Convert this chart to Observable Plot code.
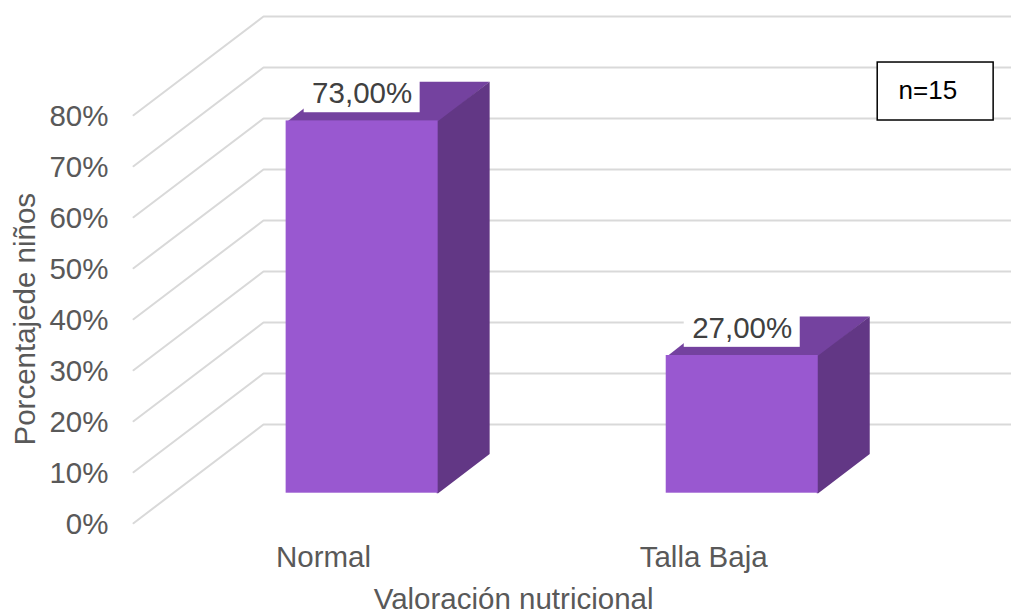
<!DOCTYPE html>
<html lang="es">
<head>
<meta charset="utf-8">
<title>Valoración nutricional</title>
<script src="https://cdn.jsdelivr.net/npm/d3@7"></script>
<script src="https://cdn.jsdelivr.net/npm/@observablehq/plot@0.6"></script>
<style>
  html, body { margin: 0; padding: 0; background: #fff; overflow: hidden; }
  svg { display: block; }
</style>
</head>
<body>
<div id="chart"></div>
<script>
// Data
const categories = ["Normal", "Talla Baja"];
const values = [73, 27];
const valueLabels = ["73,00%", "27,00%"];
const yTicks = [0, 10, 20, 30, 40, 50, 60, 70, 80];
const yTitle = "Porcentajede niños";
const xTitle = "Valoración nutricional";
const note = "n=15";

// Oblique "3D" projection, expressed in scale units
const xMax = 2.31;        // visible end of the back wall, in category units
const wallX = 0.342;      // horizontal shift of the back wall
const wallY = 19.35;      // vertical shift of the back wall
const barWidth = 0.4;
const depthFront = 0.304, depthBack = 0.70;
const barShift = depthFront * wallX - 0.0024;
const underlapX = 0.004, underlapY = 0.3;  // faces tuck under the front rect so no seam shows
const fontSize = 29.5;

const rows = categories.map((c, i) => ({
  c, v: values[i], label: valueLabels[i], center: i + 0.5 + barShift,
  x1: i + 0.5 - barWidth / 2 + barShift,
  x2: i + 0.5 + barWidth / 2 + barShift,
  yBase: depthFront * wallY,
  yTop: values[i] + depthFront * wallY
}));
const depthX = (depthBack - depthFront) * wallX;
const depthY = (depthBack - depthFront) * wallY;

const grid = yTicks.flatMap(t => [
  {t, x: 0, y: t},
  {t, x: wallX, y: t + wallY},
  {t, x: xMax, y: t + wallY}
]);
const topFaces = rows.flatMap(r => [
  {id: r.c, x: r.x1, y: r.yTop - underlapY},
  {id: r.c, x: r.x2, y: r.yTop - underlapY},
  {id: r.c, x: r.x2 + depthX, y: r.yTop + depthY},
  {id: r.c, x: r.x1 + depthX, y: r.yTop + depthY}
]);
const sideFaces = rows.flatMap(r => [
  {id: r.c, x: r.x2 - underlapX, y: r.yBase},
  {id: r.c, x: r.x2 - underlapX, y: r.yTop},
  {id: r.c, x: r.x2, y: r.yTop},
  {id: r.c, x: r.x2 + depthX, y: r.yTop + depthY},
  {id: r.c, x: r.x2 + depthX, y: r.yBase + depthY},
  {id: r.c, x: r.x2, y: r.yBase}
]);

const plot = Plot.plot({
  width: 1011,
  height: 611,
  marginLeft: 133,
  marginRight: 0,
  marginTop: 12.7,
  marginBottom: 88.3,
  style: {background: "#fff", fontFamily: "'Liberation Sans', Arial, sans-serif", overflow: "hidden"},
  x: {domain: [0, xMax]},
  y: {domain: [0, 100]},
  marks: [
    Plot.line(grid, {x: "x", y: "y", z: "t", stroke: "#D9D9D9", strokeWidth: 2}),
    Plot.line(topFaces, {x: "x", y: "y", z: "id", fill: "#74429F", stroke: "none"}),
    Plot.line(sideFaces, {x: "x", y: "y", z: "id", fill: "#623785", stroke: "none"}),
    Plot.rect(rows, {x1: "x1", x2: "x2", y1: "yBase", y2: "yTop", fill: "#9958D0"}),
    // white plates behind the data labels
    Plot.rect(rows, {
      x1: d => d.center - 0.1526,
      x2: d => d.center + 0.1526,
      y1: d => d.yTop + 1.6,
      y2: d => d.yTop + 7.8,
      fill: "#fff"
    }),
    Plot.text(rows, {
      x: "center",
      y: d => d.yTop + 4.7,
      text: "label", dy: -3, fontSize, fill: "#404040"
    }),
    Plot.axisY({
      ticks: yTicks, tickSize: 0, tickPadding: 25, label: null, dy: 1.5,
      tickFormat: d => d + "%", fontSize, fill: "#595959"
    }),
    Plot.axisX({
      ticks: [0.5, 1.5], tickSize: 0, tickPadding: 23, label: null,
      tickFormat: d => categories[d - 0.5], fontSize, fill: "#595959"
    }),
    Plot.text([yTitle], {
      x: 0, y: 40, text: d => d, dx: -107.5, rotate: -90, fontSize, fill: "#595959"
    }),
    Plot.text([xTitle], {
      x: 1, y: 0, text: d => d, dy: 76, fontSize, fill: "#595959"
    }),
    // sample-size note
    Plot.rect([note], {
      x1: 1.958, x2: 2.263, y1: 78.96, y2: 90.33,
      fill: "#fff", stroke: "#000", strokeWidth: 1.5
    }),
    Plot.text([note], {x: 2.09, y: 84.8, text: d => d, fontSize: 26, fill: "#000"})
  ]
});
document.getElementById("chart").append(plot);
</script>
</body>
</html>
